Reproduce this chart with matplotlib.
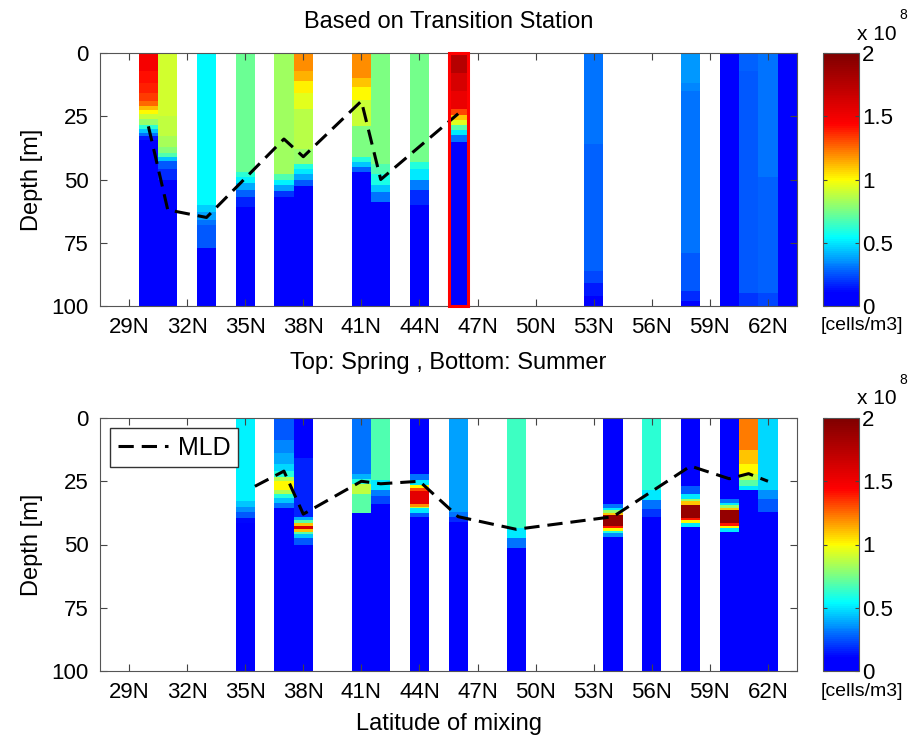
import matplotlib
matplotlib.use('Agg')
import matplotlib.pyplot as plt
import numpy as np
from matplotlib.colors import LinearSegmentedColormap, Normalize
from matplotlib.patches import Rectangle

plt.rcParams['font.family'] = ['Liberation Sans', 'DejaVu Sans']

# Profils de concentration (x 1e8 cells/m3) : profondeur du haut de chaque couche et valeur
spring_lat = [30, 31, 33, 35, 37, 38, 41, 42, 44, 46, 53, 58, 60, 61, 62, 63]
spring_depth = [
    [0, 7, 12, 16, 19, 21, 22.5, 24, 26, 28.5, 30, 31.5, 33, 34.5],
    [0, 25, 33, 37, 39.5, 41, 42.5, 46, 50],
    [0, 60, 63, 66, 68, 77],
    [0, 47, 49, 51.5, 54, 57, 61],
    [0, 48, 50, 52, 54.5, 57],
    [0, 7, 11, 16, 22, 38, 44, 46, 48, 50, 52.5],
    [0, 10, 13.5, 18.5, 29, 41, 43, 45, 47],
    [0, 44, 48, 52, 55, 59],
    [0, 43, 46, 50, 54, 60],
    [0, 8, 15, 22, 24.5, 26.5, 28.5, 30.5, 32.5, 35],
    [0, 36, 86, 91, 96],
    [0, 12, 15, 79, 94, 98],
    [0],
    [0, 7, 95],
    [0, 49, 95],
    [0],
]
spring_vals = [
    [1.48, 1.42, 1.38, 1.33, 1.25, 1.12, 1.0, 0.9, 0.8, 0.62, 0.45, 0.3, 0.15, 0.0],
    [0.92, 0.88, 0.84, 0.78, 0.68, 0.45, 0.25, 0.18, 0.0],
    [0.54, 0.46, 0.38, 0.3, 0.25, 0.0],
    [0.73, 0.62, 0.52, 0.4, 0.28, 0.16, 0.0],
    [0.82, 0.68, 0.52, 0.38, 0.2, 0.0],
    [1.2, 1.13, 1.03, 0.94, 0.87, 0.8, 0.6, 0.5, 0.4, 0.25, 0.0],
    [1.2, 1.1, 1.01, 0.9, 0.76, 0.6, 0.45, 0.28, 0.0],
    [0.76, 0.68, 0.58, 0.45, 0.3, 0.0],
    [0.74, 0.6, 0.5, 0.32, 0.18, 0.0],
    [1.75, 1.62, 1.52, 1.32, 1.1, 0.95, 0.7, 0.5, 0.3, 0.02],
    [0.3, 0.27, 0.22, 0.15, 0.08],
    [0.37, 0.33, 0.3, 0.26, 0.18, 0.1],
    [0.02],
    [0.28, 0.26, 0.2],
    [0.3, 0.27, 0.22],
    [0.02],
]
spring_mld_lat = [30, 31, 33, 37, 38, 41, 42, 46]
spring_mld = [29, 62, 65, 34, 41, 19, 50, 24]

summer_lat = [35, 37, 38, 41, 42, 44, 46, 49, 54, 56, 58, 60, 61, 62]
summer_depth = [
    [0, 33, 35, 37, 39.5, 41.5],
    [0, 8.5, 14, 18, 21, 23.5, 25, 28.5, 30, 31.5, 33.5, 35.5],
    [0, 16, 39, 40.5, 41.5, 42.5, 44, 45, 46, 47.5, 50],
    [0, 22, 24, 26, 30, 37.5],
    [0, 24.5, 28.5, 31, 34],
    [0, 22, 24.5, 26.5, 27.5, 29, 34, 35, 35.5, 37.5, 39],
    [0, 37, 39, 41],
    [0, 43.5, 47.5, 51.5],
    [0, 34, 35.5, 36.5, 37.5, 38.5, 42.5, 43.5, 44.5, 45.5, 47],
    [0, 28.5, 32.5, 36, 39],
    [0, 27, 30, 32, 33, 34.5, 39.5, 40.5, 41.5, 43],
    [0, 32, 33.5, 34.5, 35.5, 36.5, 41.5, 42.5, 43.5, 45],
    [0, 12.5, 18, 22, 24.5, 27, 28.5],
    [0, 28.5, 32, 37],
]
summer_vals = [
    [0.52, 0.45, 0.35, 0.25, 0.12, 0.0],
    [0.26, 0.33, 0.4, 0.47, 0.6, 0.85, 1.0, 0.85, 0.6, 0.45, 0.3, 0.0],
    [0.05, 0.16, 0.4, 0.7, 1.1, 1.6, 1.1, 0.7, 0.45, 0.25, 0.0],
    [0.3, 0.42, 0.6, 0.88, 0.7, 0.0],
    [0.68, 0.5, 0.32, 0.22, 0.0],
    [0.03, 0.3, 0.5, 1.0, 1.3, 1.55, 1.2, 0.9, 0.5, 0.25, 0.0],
    [0.38, 0.3, 0.18, 0.0],
    [0.65, 0.5, 0.3, 0.0],
    [0.02, 0.3, 0.5, 0.8, 1.1, 1.9, 1.4, 1.0, 0.6, 0.35, 0.0],
    [0.62, 0.5, 0.3, 0.2, 0.0],
    [0.03, 0.25, 0.5, 0.8, 1.1, 1.9, 1.4, 1.0, 0.5, 0.0],
    [0.02, 0.3, 0.5, 0.8, 1.1, 1.9, 1.4, 1.0, 0.5, 0.0],
    [1.22, 1.1, 1.0, 0.88, 0.7, 0.5, 0.02],
    [0.48, 0.35, 0.25, 0.0],
]
summer_mld_lat = [35.5, 37, 38, 41, 42, 44, 46, 49, 54, 58, 60, 61, 62]
summer_mld = [27, 21, 38, 25, 26, 25, 39, 44, 39, 19, 24, 22, 25]

lat_ticks = list(range(29, 63, 3))
depth_ticks = [0, 25, 50, 75, 100]
cbar_ticks = [0, 0.5, 1, 1.5, 2]

# Palette type "jet" qui commence au bleu vif
cmap = LinearSegmentedColormap.from_list('jet_bleu', [
    (0.0, (0, 0, 1)), (0.05, (0, 0, 1)), (0.27, (0, 1, 1)),
    (0.38, (0.5, 1, 0.5)), (0.5, (1, 1, 0)), (0.72, (1, 0, 0)),
    (1.0, (0.5, 0, 0))], N=128)
norm = Normalize(vmin=0, vmax=2)

W, H = 909, 742
fig = plt.figure(figsize=(W / 100, H / 100), dpi=100)


def draw_panel(ax_box, lats, depths, vals, mld_lat, mld):
    ax = fig.add_axes(ax_box)
    for lat, d, v in zip(lats, depths, vals):
        edges = list(d) + [100]
        c = np.array(v)[:, None]
        mesh = ax.pcolormesh([lat - 0.5, lat + 0.5], edges, c, cmap=cmap, norm=norm,
                             shading='flat')
    line, = ax.plot(mld_lat, mld, color='k', lw=2.2, linestyle=(0, (5, 2.6)))
    ax.set_xlim(27.5, 63.5)
    ax.set_ylim(100, 0)
    ax.set_xticks(lat_ticks)
    ax.set_xticklabels([f'{v}N' for v in lat_ticks])
    ax.set_yticks(depth_ticks)
    ax.tick_params(direction='in', top=True, right=True, length=5, labelsize=16,
                   color='#444444', pad=8)
    for s in ax.spines.values():
        s.set_color('#555555')
    ax.set_ylabel('Depth [m]', fontsize=17, labelpad=6)
    return ax, mesh, line


def draw_colorbar(top_px, mesh):
    cax = fig.add_axes([823 / W, 1 - (top_px + 253) / H, 36 / W, 253 / H])
    cb = fig.colorbar(mesh, cax=cax, ticks=cbar_ticks)
    cb.ax.set_yticklabels(['0', '0.5', '1', '1.5', '2'])
    cb.ax.tick_params(direction='in', length=3, labelsize=16, color='#444444',
                      left=True, right=True, pad=2)
    cb.outline.set_edgecolor('#555555')
    fig.text(857 / W, 1 - (top_px - 19) / H, 'x 10', fontsize=15, ha='left', va='center')
    fig.text(903 / W, 1 - (top_px - 38) / H, '8', fontsize=10, ha='center', va='center')
    fig.text(862 / W, 1 - (top_px + 273) / H, '[cells/m3]', fontsize=14,
             ha='center', va='center')


ax1, mesh1, _ = draw_panel([100 / W, 1 - 306 / H, 697 / W, 253 / H],
                           spring_lat, spring_depth, spring_vals,
                           spring_mld_lat, spring_mld)
ax1.add_patch(Rectangle((45.5, 0), 1, 100, fill=False, edgecolor='red', lw=2.2,
                        clip_on=False, zorder=3))
ax1.set_title('Based on Transition Station', fontsize=17, pad=18)
ax1.set_xlabel('Top: Spring , Bottom: Summer', fontsize=17, labelpad=10)
draw_colorbar(53, mesh1)

ax2, mesh2, line2 = draw_panel([100 / W, 1 - 671 / H, 697 / W, 253 / H],
                               summer_lat, summer_depth, summer_vals,
                               summer_mld_lat, summer_mld)
ax2.legend([line2], ['MLD'], loc='upper left', fontsize=18, frameon=True,
           fancybox=False, edgecolor='#333333', handlelength=2.0,
           handletextpad=0.4, borderaxespad=0.4, borderpad=0.3, framealpha=1)
ax2.set_xlabel('Latitude of mixing', fontsize=17, labelpad=7)
draw_colorbar(418, mesh2)

fig.savefig('out.png', dpi=100)
plt.close(fig)
